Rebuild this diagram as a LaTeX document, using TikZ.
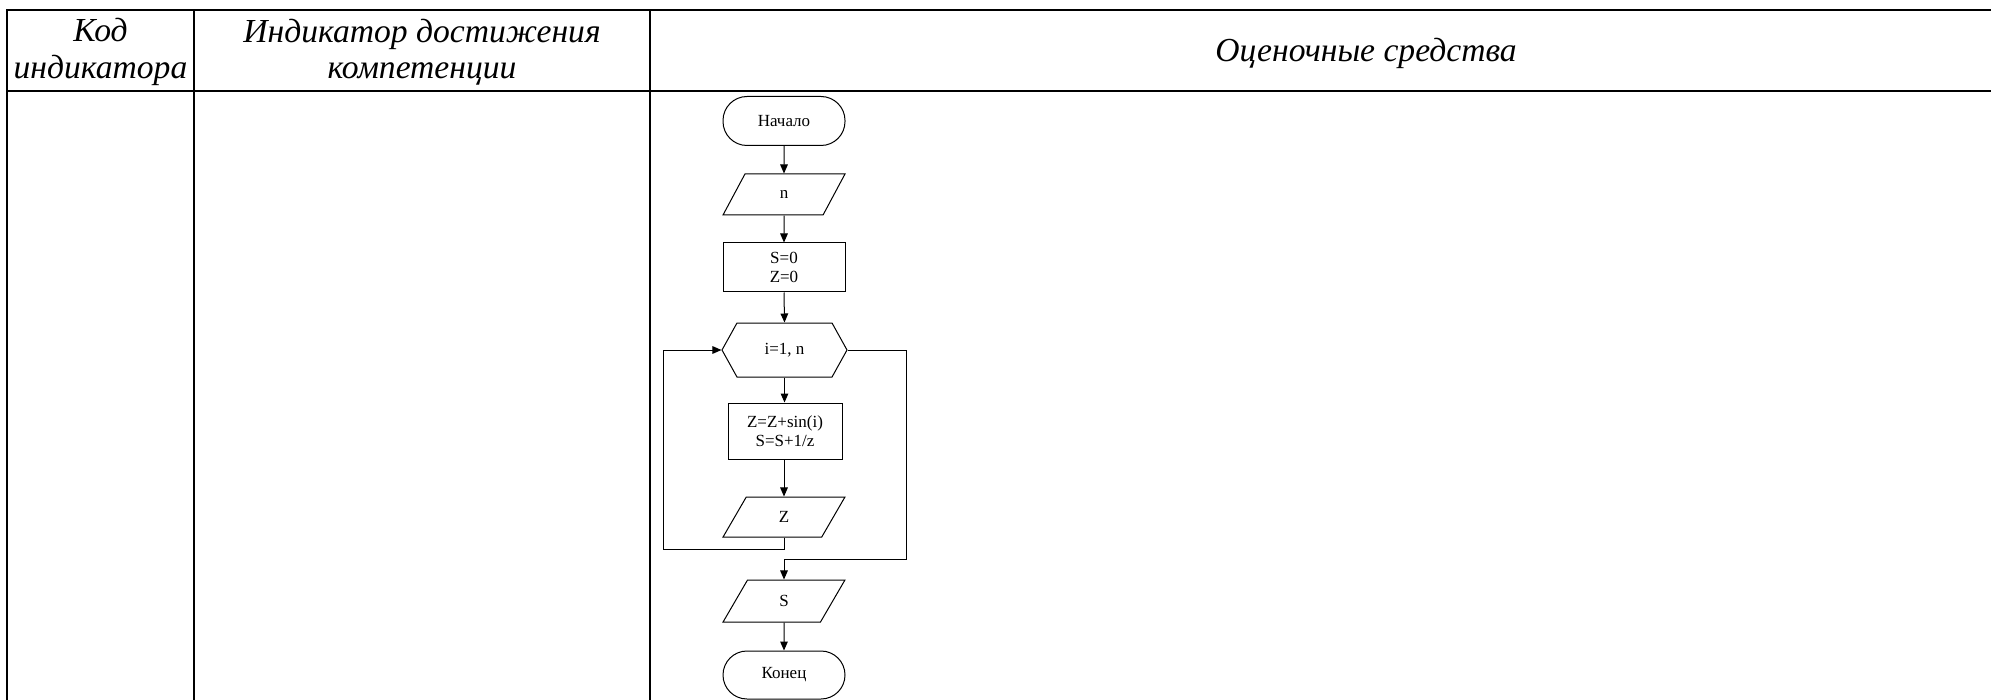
\documentclass[tikz,border=0pt]{standalone}
\usepackage{fontspec}
\setmainfont{Liberation Serif}
\usetikzlibrary{arrows.meta,shapes.geometric,shapes.symbols}
\begin{document}
\begin{tikzpicture}[x=0.5pt,y=-0.5pt,
  grid/.style={line width=1.1pt,line cap=rect},
  hdr/.style={font=\fontsize{16.8}{18.2}\selectfont\itshape,align=center,inner sep=0pt},
  fc/.style={draw,line width=0.5pt,font=\fontsize{8.5}{9.2}\selectfont,align=center,inner sep=1pt},
  term/.style={fc,rectangle,rounded corners=12pt,minimum width=61pt,minimum height=24.5pt},
  proc/.style={fc,rectangle,minimum width=61pt,minimum height=24.5pt},
  io/.style={fc,trapezium,trapezium left angle=73.7,trapezium right angle=106.3,trapezium stretches=true,minimum width=61pt,minimum height=20.5pt},
  loopbox/.style={fc,signal,signal to=west and east,signal pointer angle=122,minimum width=62.5pt,minimum height=27pt},
  arr/.style={line width=0.5pt,-{Triangle[length=4.5pt,width=3.8pt]}},
  ln/.style={line width=0.5pt}]
\useasboundingbox (0,0) rectangle (1991,700);
% table
\draw[grid] (1991,10) -- (7,10) -- (7,700);
\draw[grid] (7,91) -- (1991,91);
\draw[grid] (194,10) -- (194,700);
\draw[grid] (650,10) -- (650,700);
\node[hdr] (h1) at (100.5,52) {Код\\индикатора};
\node[hdr] (h2) at (422,52) {Индикатор достижения\\компетенции};
\node[hdr] (h3) at (1366,53) {Оценочные средства};
% flowchart
\node[term] (start) at (784,121) {Начало};
\node[io] (n) at (784,194.5) {n};
\node[proc] (s0) at (784,267.5) {S=0\\Z=0};
\node[loopbox] (loop) at (784.5,350) {i=1, n};
\node[proc,minimum width=57pt,minimum height=28pt] (body) at (785,431) {Z=Z+sin(i)\\S=S+1/z};
\node[io,minimum height=20pt] (z) at (784,517) {Z};
\node[io,minimum height=21pt] (s) at (784,601) {S};
\node[term,minimum height=24pt] (end) at (784,675) {Конец};
\coordinate (lb) at (663,549);
\coordinate (re) at (906,559);
\draw[arr] (start.south) -- (n.north);
\draw[arr] (n.south) -- (s0.north);
\draw[arr] (s0.south) -- (loop.north);
\draw[arr] (loop.south) -- (body.north -| loop.south);
\draw[arr] (body.south -| z.north) -- (z.north);
\draw[arr] (z.south) |- (lb) |- (loop.west);
\draw[arr] (loop.east) -| (re) -| (s.north);
\draw[arr] (s.south) -- (end.north);
\end{tikzpicture}
\end{document}
